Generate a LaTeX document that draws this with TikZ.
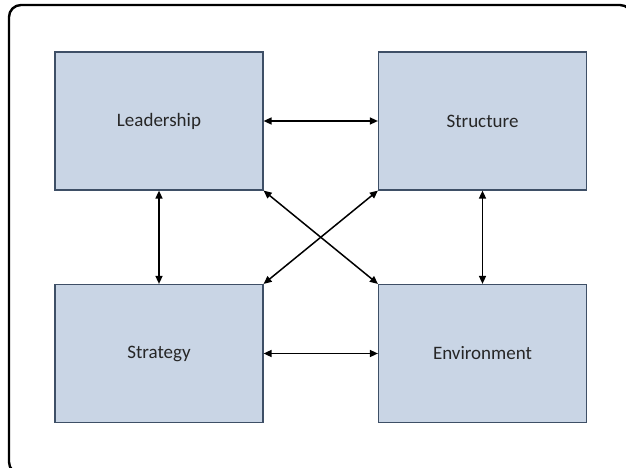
\documentclass[tikz,border=0pt]{standalone}
\usepackage{fontspec}
\setmainfont{Carlito}
\usetikzlibrary{arrows.meta}
\definecolor{boxfill}{HTML}{C9D5E5}
\definecolor{boxline}{HTML}{3E4F66}
\definecolor{labeltext}{HTML}{262626}
\begin{document}
\begin{tikzpicture}[x=1pt,y=-1pt,
  block/.style={draw=boxline,fill=boxfill,line width=1.2pt,minimum width=208pt,minimum height=138pt,
    inner sep=0pt,font=\fontsize{19}{21}\selectfont,text=labeltext},
  link/.style={line width=1.5pt,{Triangle[length=8pt,width=7pt]}-{Triangle[length=8pt,width=7pt]}}]
  \useasboundingbox (0,0) rectangle (626,468);
  % outer frame, running past the right and bottom edges
  \begin{scope}
    \clip (0,0) rectangle (626,468);
    \draw[line width=2.4pt,rounded corners=12pt] (9,5) rectangle (632,474);
  \end{scope}
  % the four blocks
  \node[block] (lead) at (159,121) {Leadership};
  \node[block] (struct) at (482.5,121) {Structure};
  \node[block] (strat) at (159,353.5) {Strategy};
  \node[block] (env) at (482.5,353.5) {Environment};
  % connectors
  \draw[link] (lead.east) -- (struct.west);
  \draw[link] (strat.east) -- (env.west);
  \draw[link] (lead.south) -- (strat.north);
  \draw[link] (struct.south) -- (env.north);
  \draw[link] (lead.south east) -- (env.north west);
  \draw[link] (struct.south west) -- (strat.north east);
\end{tikzpicture}
\end{document}
